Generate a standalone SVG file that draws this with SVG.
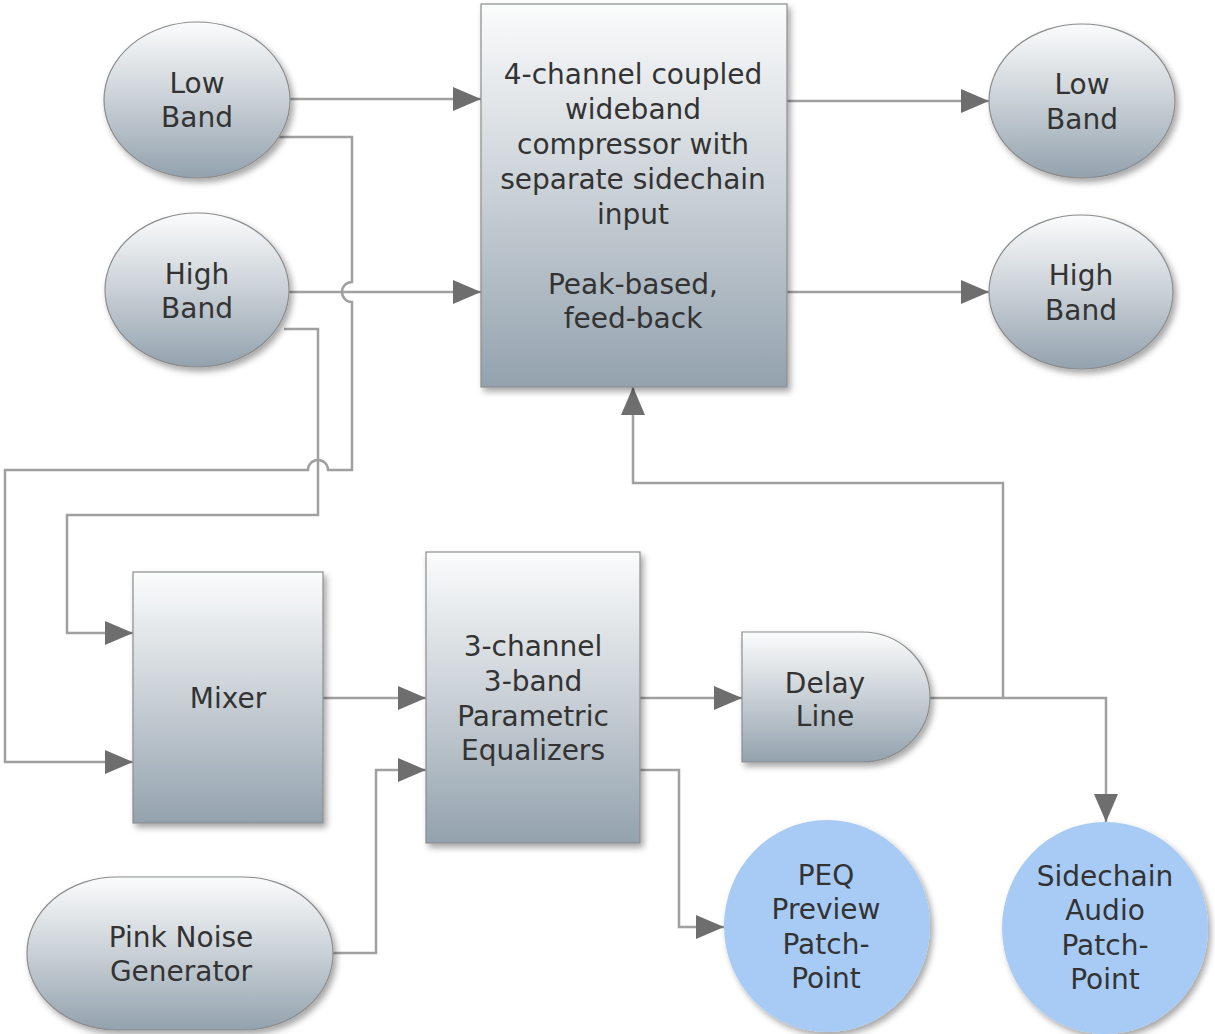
<svg xmlns="http://www.w3.org/2000/svg" width="1215" height="1034" viewBox="0 0 1215 1034">
<defs>
<linearGradient id="g" x1="0" y1="0" x2="0" y2="1">
<stop offset="0" stop-color="#fbfcfc"/>
<stop offset="0.5" stop-color="#c9d0d6"/>
<stop offset="1" stop-color="#93a2ae"/>
</linearGradient>
<filter id="sh" x="-10%" y="-10%" width="130%" height="130%">
<feDropShadow dx="3" dy="4" stdDeviation="3" flood-color="#000" flood-opacity="0.35"/>
</filter>
<marker id="arr" markerWidth="28" markerHeight="24" refX="28" refY="12" orient="auto" markerUnits="userSpaceOnUse">
<path d="M0,0 L28,12 L0,24 Z" fill="#6e6e6e"/>
</marker>
</defs>
<style>
.n{fill:url(#g);stroke:#8c8c8c;stroke-width:1.2;filter:url(#sh)}
.b{fill:#a8cbf6;stroke:none;filter:url(#sh)}
.t{font-family:"DejaVu Sans",Verdana,sans-serif;font-size:28px;fill:#333;text-anchor:middle}
.c{fill:none;stroke:#a0a0a0;stroke-width:2.5}
.a{marker-end:url(#arr)}
</style>
<rect width="1215" height="1034" fill="#fff"/>

<g id="connectors">
<path class="c a" d="M290,99 H481"/>
<path class="c a" d="M288,292 H481"/>
<path class="c a" d="M787,101 H989"/>
<path class="c a" d="M787,292 H989"/>
<path class="c a" d="M270,137 H352 V282 A10,10 0 0 0 352,302 V470 H328 A10,10 0 0 0 308,470 H5 V762 H133"/>
<path class="c a" d="M284,329 H318 V515 H67 V633 H133"/>
<path class="c a" d="M323,698 H426"/>
<path class="c a" d="M333,953 H376 V770 H426"/>
<path class="c a" d="M640,698 H742"/>
<path class="c a" d="M640,770 H679 V927 H724"/>
<path class="c a" d="M930,698 H1106 V822"/>
<path class="c a" d="M1003,698 V483 H633 V387"/>
</g>

<g id="compressor">
<rect class="n" x="481" y="4" width="306" height="383"/>
<text class="t" x="633" y="84">4-channel coupled</text>
<text class="t" x="633" y="119">wideband</text>
<text class="t" x="633" y="154">compressor with</text>
<text class="t" x="633" y="189">separate sidechain</text>
<text class="t" x="633" y="224">input</text>
<text class="t" x="633" y="294">Peak-based,</text>
<text class="t" x="633" y="328">feed-back</text>
</g>

<g id="lowband-in">
<ellipse class="n" cx="197" cy="100" rx="93" ry="78"/>
<text class="t" x="197" y="93">Low</text>
<text class="t" x="197" y="127">Band</text>
</g>

<g id="highband-in">
<ellipse class="n" cx="197" cy="290" rx="92" ry="77"/>
<text class="t" x="197" y="284">High</text>
<text class="t" x="197" y="318">Band</text>
</g>

<g id="lowband-out">
<ellipse class="n" cx="1082" cy="101" rx="93" ry="77"/>
<text class="t" x="1082" y="94">Low</text>
<text class="t" x="1082" y="129">Band</text>
</g>

<g id="highband-out">
<ellipse class="n" cx="1081" cy="292" rx="92" ry="77"/>
<text class="t" x="1081" y="285">High</text>
<text class="t" x="1081" y="320">Band</text>
</g>

<g id="mixer">
<rect class="n" x="133" y="572" width="190" height="251"/>
<text class="t" x="228" y="708">Mixer</text>
</g>

<g id="peq">
<rect class="n" x="426" y="552" width="214" height="291"/>
<text class="t" x="533" y="656">3-channel</text>
<text class="t" x="533" y="691">3-band</text>
<text class="t" x="533" y="726">Parametric</text>
<text class="t" x="533" y="760">Equalizers</text>
</g>

<g id="delay">
<path class="n" d="M742,632 H862 A68,65 0 0 1 862,762 H742 Z"/>
<text class="t" x="825" y="693">Delay</text>
<text class="t" x="825" y="726">Line</text>
</g>

<g id="pinknoise">
<rect class="n" x="27" y="877" width="306" height="153" rx="90" ry="76"/>
<text class="t" x="181" y="947">Pink Noise</text>
<text class="t" x="181" y="981">Generator</text>
</g>

<g id="peq-preview">
<ellipse class="b" cx="827" cy="926" rx="103" ry="106"/>
<text class="t" x="826" y="885">PEQ</text>
<text class="t" x="826" y="919">Preview</text>
<text class="t" x="826" y="954">Patch-</text>
<text class="t" x="826" y="988">Point</text>
</g>

<g id="sidechain">
<ellipse class="b" cx="1105" cy="928" rx="103" ry="106"/>
<text class="t" x="1105" y="886">Sidechain</text>
<text class="t" x="1105" y="920">Audio</text>
<text class="t" x="1105" y="955">Patch-</text>
<text class="t" x="1105" y="989">Point</text>
</g>
</svg>
